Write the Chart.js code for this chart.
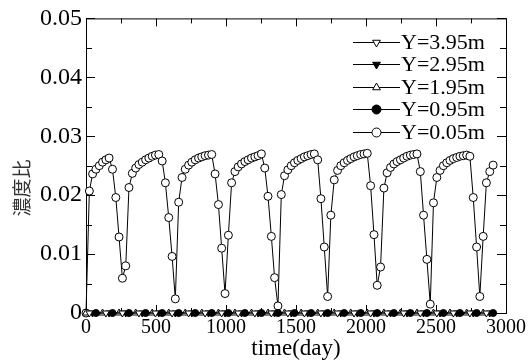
<!DOCTYPE html>
<html lang="ja">
<head>
<meta charset="UTF-8">
<title>濃度比</title>
<script src="https://cdn.jsdelivr.net/npm/chart.js@4"></script>
<style>
  html, body { margin: 0; padding: 0; background: #fff; }
  #wrap { width: 532px; height: 364px; }
</style>
</head>
<body>
<div id="wrap"><canvas id="c" width="532" height="364"></canvas></div>
<script>
// 時間軸 (day) - 約23.6日ごとのサンプル
const days = [
  0, 24, 47, 71, 95, 118, 142, 165, 189, 213, 236, 260, 284, 307, 331, 355, 378, 402, 426, 449,
  473, 496, 520, 544, 567, 591, 615, 638, 662, 686, 709, 733, 756, 780, 804, 827, 851, 875, 898, 922,
  946, 969, 993, 1017, 1040, 1064, 1087, 1111, 1135, 1158, 1182, 1206, 1229, 1253, 1277, 1300, 1324, 1347, 1371, 1395,
  1418, 1442, 1466, 1489, 1513, 1537, 1560, 1584, 1608, 1631, 1655, 1678, 1702, 1726, 1749, 1773, 1797, 1820, 1844, 1868,
  1891, 1915, 1938, 1962, 1986, 2009, 2033, 2057, 2080, 2104, 2128, 2151, 2175, 2199, 2222, 2246, 2269, 2293, 2317, 2340,
  2364, 2388, 2411, 2435, 2459, 2482, 2506, 2529, 2553, 2577, 2600, 2624, 2648, 2671, 2695, 2719, 2742, 2766, 2790, 2813,
  2837, 2860, 2884, 2908
];

// Y=0.05m の濃度比
const conc005 = [
  0, 0.0207, 0.0236, 0.0244, 0.0250, 0.0256, 0.0260, 0.0263, 0.0244, 0.0196,
  0.0129, 0.0059, 0.0080, 0.0213, 0.0237, 0.0246, 0.0252, 0.0256, 0.0260, 0.0263,
  0.0266, 0.0268, 0.0269, 0.0258, 0.0221, 0.0162, 0.0096, 0.0024, 0.0188, 0.0230,
  0.0244, 0.0251, 0.0256, 0.0260, 0.0263, 0.0265, 0.0267, 0.0268, 0.0269, 0.0236,
  0.0184, 0.0110, 0.0033, 0.0132, 0.0221, 0.0240, 0.0248, 0.0253, 0.0257, 0.0260,
  0.0263, 0.0265, 0.0267, 0.0270, 0.0246, 0.0198, 0.0130, 0.0060, 0.0012, 0.0201,
  0.0233, 0.0243, 0.0250, 0.0255, 0.0259, 0.0262, 0.0265, 0.0267, 0.0269, 0.0270,
  0.0260, 0.0194, 0.0112, 0.0028, 0.0166, 0.0226, 0.0242, 0.0250, 0.0255, 0.0259,
  0.0262, 0.0265, 0.0267, 0.0269, 0.0270, 0.0271, 0.0216, 0.0133, 0.0047, 0.0078,
  0.0212, 0.0238, 0.0247, 0.0253, 0.0257, 0.0260, 0.0263, 0.0266, 0.0268, 0.0269,
  0.0270, 0.0240, 0.0166, 0.0091, 0.0015, 0.0187, 0.0230, 0.0242, 0.0250, 0.0255,
  0.0259, 0.0262, 0.0264, 0.0266, 0.0267, 0.0268, 0.0266, 0.0196, 0.0112, 0.0028,
  0.0130, 0.0221, 0.0240, 0.0251
];

// 他の深さ (ほぼ0) - マーカーの位置
const days395 = [24, 142, 260, 378, 496, 615, 733, 851, 969, 1087, 1206, 1324, 1442, 1560, 1678, 1797, 1915, 2033, 2151, 2269, 2388, 2506, 2624, 2742, 2860];
const conc395 = [0, 0, 0, 0, 0, 0, 0, 0, 0, 0, 0, 0, 0, 0, 0, 0, 0, 0, 0, 0, 0, 0, 0, 0, 0];
const days295 = [47, 165, 284, 402, 520, 638, 756, 875, 993, 1111, 1229, 1347, 1466, 1584, 1702, 1820, 1938, 2057, 2175, 2293, 2411, 2529, 2648, 2766, 2884];
const conc295 = [0, 0, 0, 0, 0, 0, 0, 0, 0, 0, 0, 0, 0, 0, 0, 0, 0, 0, 0, 0, 0, 0, 0, 0, 0];
const days195 = [0, 118, 236, 355, 473, 591, 709, 827, 946, 1064, 1182, 1300, 1418, 1537, 1655, 1773, 1891, 2009, 2128, 2246, 2364, 2482, 2600, 2719, 2837];
const conc195 = [0, 0, 0, 0, 0, 0, 0, 0, 0, 0, 0, 0, 0, 0, 0, 0, 0, 0, 0, 0, 0, 0, 0, 0, 0];
const days095 = [71, 189, 307, 426, 544, 662, 780, 898, 1017, 1135, 1253, 1371, 1489, 1608, 1726, 1844, 1962, 2080, 2199, 2317, 2435, 2553, 2671, 2790, 2908];
const conc095 = [0, 0, 0, 0, 0, 0, 0, 0, 0, 0, 0, 0, 0, 0, 0, 0, 0, 0, 0, 0, 0, 0, 0, 0, 0];

const seriesLabels = ['Y=3.95m', 'Y=2.95m', 'Y=1.95m', 'Y=0.95m', 'Y=0.05m'];
const xTickValues = [0, 500, 1000, 1500, 2000, 2500, 3000];
const yTickValues = [0, 0.01, 0.02, 0.03, 0.04, 0.05];

const SERIF = '"Liberation Serif", "Times New Roman", serif';

function pts(xs, ys) {
  return xs.map((x, i) => ({ x: x, y: ys[i] }));
}

function ds(label, data, style, rot, fill, radius) {
  return {
    label: label,
    data: data,
    borderColor: '#000',
    borderWidth: 1,
    pointStyle: style,
    rotation: rot,
    pointRadius: radius,
    pointBorderWidth: 1,
    pointBorderColor: '#000',
    pointBackgroundColor: fill,
    pointHoverRadius: radius,
    tension: 0,
    clip: false
  };
}

const datasets = [
  ds(seriesLabels[0], pts(days395, conc395), 'triangle', 180, '#fff', 4),
  ds(seriesLabels[1], pts(days295, conc295), 'triangle', 180, '#000', 4),
  ds(seriesLabels[2], pts(days195, conc195), 'triangle', 0, '#fff', 4),
  ds(seriesLabels[3], pts(days095, conc095), 'circle', 0, '#000', 3.5),
  ds(seriesLabels[4], pts(days, conc005), 'circle', 0, '#fff', 4)
];

// 枠線と内向きの目盛り
const framePlugin = {
  id: 'frame',
  beforeDatasetsDraw(chart) {
    const { ctx, chartArea: a, scales } = chart;
    ctx.save();
    ctx.strokeStyle = '#000';
    ctx.lineWidth = 1;
    ctx.strokeRect(a.left + 0.5, a.top + 0.5, a.right - a.left, a.bottom - a.top);
    ctx.beginPath();
    for (let i = 0; i < xTickValues.length; i++) {
      const v = xTickValues[i];
      const px = Math.round(scales.x.getPixelForValue(v)) + 0.5;
      ctx.moveTo(px, a.top); ctx.lineTo(px, a.top + 8);
      ctx.moveTo(px, a.bottom); ctx.lineTo(px, a.bottom - 8);
      if (i < xTickValues.length - 1) {
        const m = Math.round(scales.x.getPixelForValue(v + 250)) + 0.5;
        ctx.moveTo(m, a.top); ctx.lineTo(m, a.top + 5);
        ctx.moveTo(m, a.bottom); ctx.lineTo(m, a.bottom - 5);
      }
    }
    for (let i = 0; i < yTickValues.length; i++) {
      const v = yTickValues[i];
      const py = Math.round(scales.y.getPixelForValue(v)) + 0.5;
      ctx.moveTo(a.left, py); ctx.lineTo(a.left + 9, py);
      ctx.moveTo(a.right, py); ctx.lineTo(a.right - 9, py);
      if (i < yTickValues.length - 1) {
        const m = Math.round(scales.y.getPixelForValue(v + 0.005)) + 0.5;
        ctx.moveTo(a.left, m); ctx.lineTo(a.left + 6, m);
        ctx.moveTo(a.right, m); ctx.lineTo(a.right - 6, m);
      }
    }
    ctx.stroke();
    ctx.restore();
  },
  afterDraw(chart) {
    const ctx = chart.ctx;
    ctx.save();
    // 縦軸タイトル
    ctx.translate(22, 188);
    ctx.rotate(-Math.PI / 2);
    ctx.fillStyle = '#333';
    ctx.font = '19px "Noto Sans CJK JP", sans-serif';
    ctx.textAlign = 'center';
    ctx.textBaseline = 'middle';
    ctx.fillText('濃度比', 0, 0);
    ctx.restore();

    // 凡例
    ctx.save();
    chart.data.datasets.forEach((d, i) => {
      const y = 41.5 + i * 22.5;
      ctx.strokeStyle = '#000';
      ctx.lineWidth = 1;
      ctx.beginPath();
      ctx.moveTo(353, Math.round(y) + 0.5);
      ctx.lineTo(400, Math.round(y) + 0.5);
      ctx.stroke();
      ctx.fillStyle = d.pointBackgroundColor;
      ctx.strokeStyle = '#000';
      Chart.helpers.drawPoint(ctx, {
        pointStyle: d.pointStyle,
        rotation: d.rotation,
        radius: 4.5,
        borderWidth: 1
      }, 376.5, Math.round(y) + 0.5);
      ctx.fillStyle = '#000';
      ctx.font = '22px ' + SERIF;
      ctx.textAlign = 'left';
      ctx.textBaseline = 'alphabetic';
      ctx.fillText(d.label, 401, y + 7);
    });
    ctx.restore();
  }
};

new Chart(document.getElementById('c'), {
  type: 'line',
  data: { datasets: datasets },
  options: {
    responsive: false,
    animation: false,
    events: [],
    layout: { padding: { top: 17, right: 26, left: 0, bottom: 0 } },
    plugins: {
      legend: { display: false },
      tooltip: { enabled: false }
    },
    scales: {
      x: {
        type: 'linear',
        min: 0,
        max: 3000,
        afterFit: s => { s.height = 51; },
        afterBuildTicks: s => { s.ticks = xTickValues.map(v => ({ value: v })); },
        grid: { display: false, drawTicks: false },
        border: { display: false },
        ticks: {
          padding: 3,
          color: '#000',
          font: { family: SERIF, size: 20 },
          maxRotation: 0,
          callback: v => String(v)
        },
        title: {
          display: true,
          text: 'time(day)',
          color: '#000',
          font: { family: SERIF, size: 23 },
          padding: { top: 0, bottom: 1 }
        }
      },
      y: {
        type: 'linear',
        min: 0,
        max: 0.05,
        afterFit: s => { s.width = 86; },
        afterBuildTicks: s => { s.ticks = yTickValues.map(v => ({ value: v })); },
        grid: { display: false, drawTicks: false },
        border: { display: false },
        ticks: {
          padding: 4,
          color: '#000',
          font: { family: SERIF, size: 24 },
          callback: v => String(v)
        }
      }
    }
  },
  plugins: [framePlugin]
});
</script>
</body>
</html>
